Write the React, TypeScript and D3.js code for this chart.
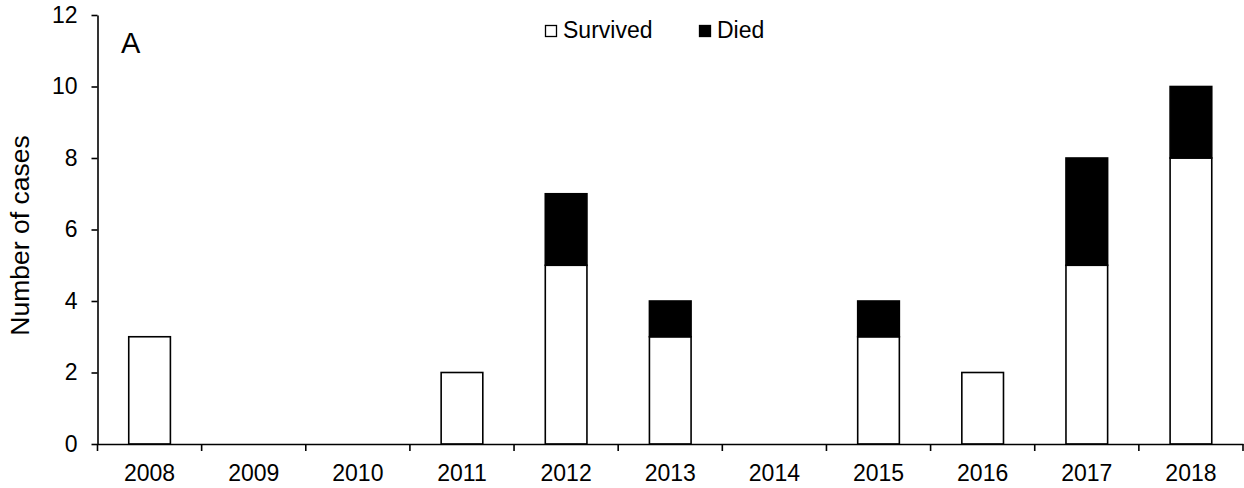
import React, { useRef, useEffect } from "react";
import * as d3 from "d3";

const years = ["2008", "2009", "2010", "2011", "2012", "2013", "2014", "2015", "2016", "2017", "2018"];
const survived = [3, 0, 0, 2, 5, 3, 0, 3, 2, 5, 8];
const died = [0, 0, 0, 0, 2, 1, 0, 1, 0, 3, 2];
const yTicks = [0, 2, 4, 6, 8, 10, 12];
const seriesNames = ["Survived", "Died"];

const W = 1244;
const H = 488;
const left = 97.5;
const right = 1243;
const top = 15;
const bottom = 444;
const FONT = "Liberation Sans, Arial, sans-serif";

function CasesChart() {
  const svgRef = useRef<SVGSVGElement>(null);

  useEffect(() => {
    const svg = d3.select(svgRef.current);
    svg.selectAll("*").remove();

    // Scales
    const xCat = d3.scaleBand().domain(years).range([left, right]).padding(0);
    const xBar = d3
      .scaleBand()
      .domain(years)
      .range([left, right])
      .paddingInner(0.6)
      .paddingOuter(0.3);
    const y = d3.scaleLinear().domain([0, 12]).range([bottom, top]);

    const rows = years.map((yr, i) => ({ year: yr, s: survived[i], d: died[i] }));

    // Survived bars
    svg
      .append("g")
      .selectAll("rect")
      .data(rows.filter((r) => r.s > 0))
      .join("rect")
      .attr("x", (r) => xBar(r.year)!)
      .attr("y", (r) => y(r.s))
      .attr("width", xBar.bandwidth())
      .attr("height", (r) => y(0) - y(r.s))
      .attr("fill", "#fff")
      .attr("stroke", "#000")
      .attr("stroke-width", 1.6);

    // Died bars, stacked on top
    svg
      .append("g")
      .selectAll("rect")
      .data(rows.filter((r) => r.d > 0))
      .join("rect")
      .attr("x", (r) => xBar(r.year)!)
      .attr("y", (r) => y(r.s + r.d))
      .attr("width", xBar.bandwidth())
      .attr("height", (r) => y(r.s) - y(r.s + r.d))
      .attr("fill", "#000")
      .attr("stroke", "#000")
      .attr("stroke-width", 1.6);

    // Y axis
    const yAxis = svg
      .append("g")
      .attr("transform", `translate(${left},0)`)
      .call(d3.axisLeft(y).tickValues(yTicks).tickSize(6).tickPadding(14).tickSizeOuter(0));
    yAxis.select(".domain").attr("stroke", "#000").attr("stroke-width", 1.6);
    yAxis.selectAll(".tick line").attr("stroke", "#000").attr("stroke-width", 1.6);
    yAxis
      .selectAll(".tick text")
      .attr("font-family", FONT)
      .attr("font-size", 23)
      .attr("fill", "#000");

    // X axis: labels centered in categories, ticks on boundaries
    const xAxis = svg
      .append("g")
      .attr("transform", `translate(0,${bottom})`)
      .call(d3.axisBottom(xCat).tickSize(0).tickPadding(21).tickSizeOuter(0));
    xAxis.select(".domain").attr("stroke", "#000").attr("stroke-width", 1.6);
    xAxis
      .selectAll(".tick text")
      .attr("font-family", FONT)
      .attr("font-size", 23)
      .attr("fill", "#000");
    xAxis
      .selectAll(".bound")
      .data([...years.map((yr) => xCat(yr)!), right])
      .join("line")
      .attr("class", "bound")
      .attr("x1", (d) => d)
      .attr("x2", (d) => d)
      .attr("y1", 0)
      .attr("y2", 7)
      .attr("stroke", "#000")
      .attr("stroke-width", 1.6);

    // Y axis title
    svg
      .append("text")
      .attr("transform", `translate(29,${(top + bottom) / 2 + 6}) rotate(-90)`)
      .attr("text-anchor", "middle")
      .attr("font-family", FONT)
      .attr("font-size", 26.5)
      .attr("fill", "#000")
      .text("Number of cases");

    // Panel letter
    svg
      .append("text")
      .attr("x", 121)
      .attr("y", 53)
      .attr("font-family", FONT)
      .attr("font-size", 29)
      .attr("fill", "#000")
      .text("A");

    // Legend
    const legendX = [545, 699];
    const legend = svg
      .append("g")
      .selectAll("g")
      .data(seriesNames)
      .join("g")
      .attr("transform", (_, i) => `translate(${legendX[i]},25)`);
    legend
      .append("rect")
      .attr("x", 0.5)
      .attr("y", 0.5)
      .attr("width", 11)
      .attr("height", 11)
      .attr("fill", (_, i) => (i === 0 ? "#fff" : "#000"))
      .attr("stroke", "#000")
      .attr("stroke-width", 1.3);
    legend
      .append("text")
      .attr("x", 18)
      .attr("y", 12.8)
      .attr("font-family", FONT)
      .attr("font-size", 23)
      .attr("fill", "#000")
      .text((d) => d);
  }, []);

  return <svg ref={svgRef} width={W} height={H} />;
}

export default function App() {
  return (
    <div style={{ position: "absolute", left: 0, top: 0 }}>
      <CasesChart />
    </div>
  );
}
